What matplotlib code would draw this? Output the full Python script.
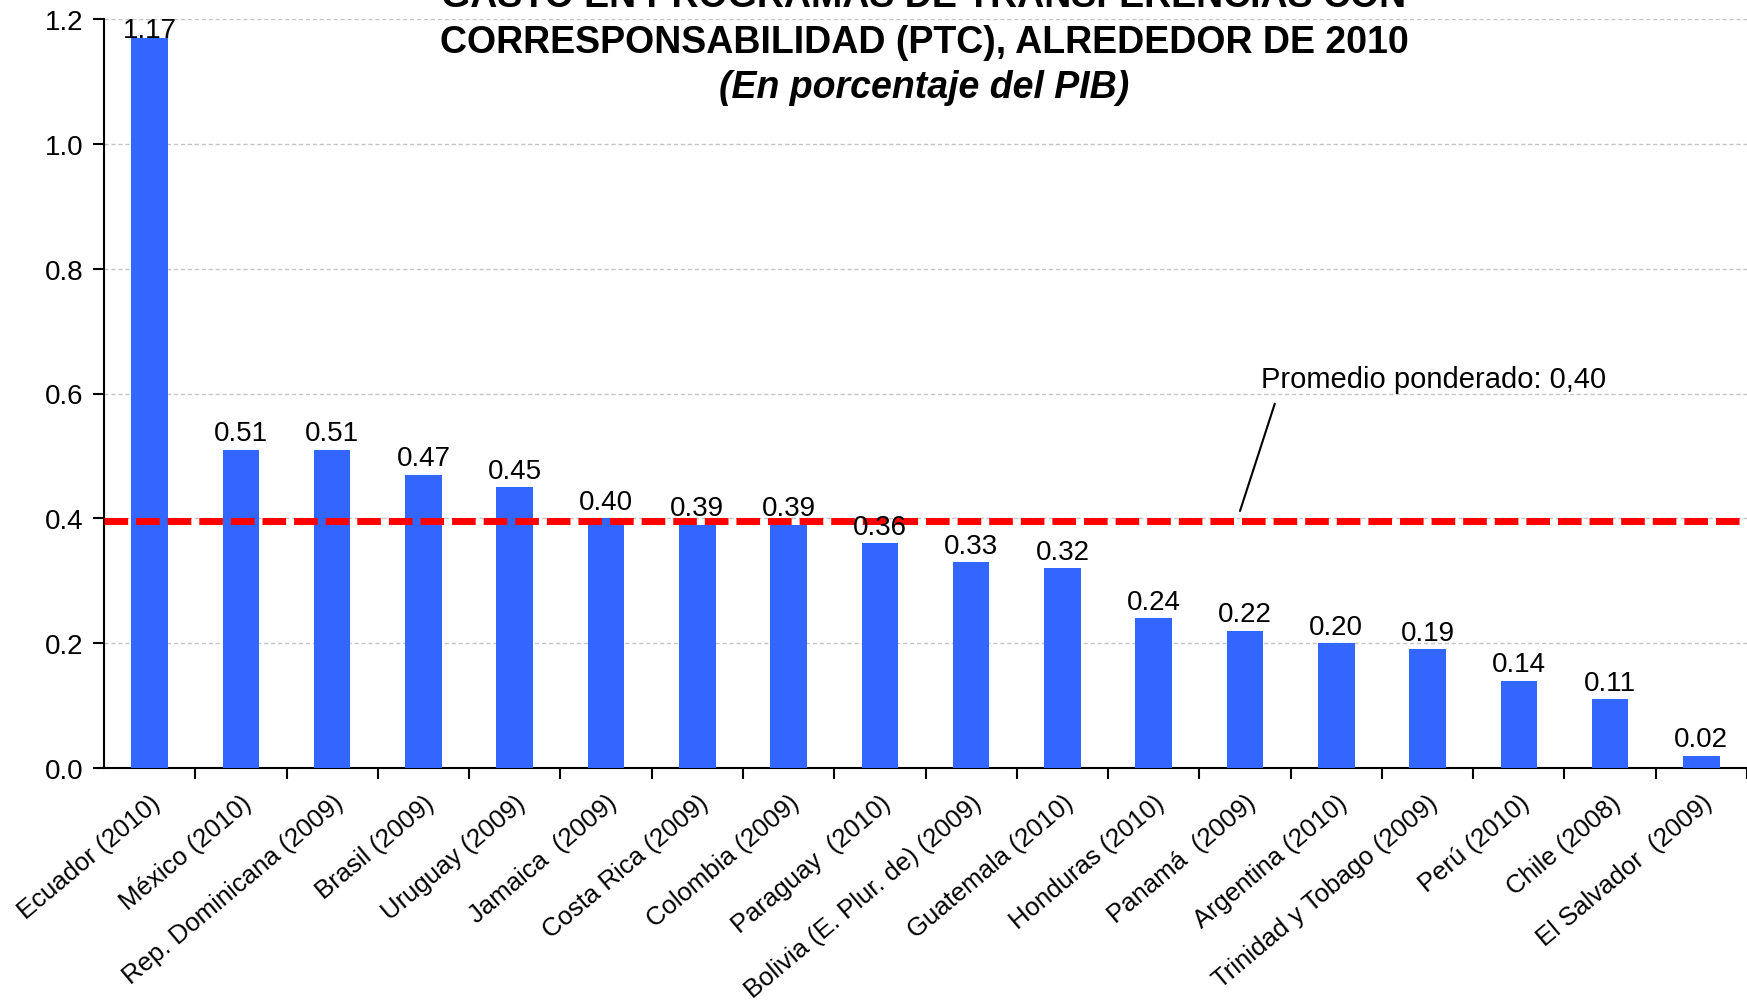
import matplotlib
matplotlib.use("Agg")
import matplotlib.pyplot as plt
import matplotlib.transforms as mtransforms
import numpy as np

categories = ["Ecuador (2010)", "México (2010)", "Rep. Dominicana (2009)", "Brasil (2009)",
              "Uruguay (2009)", "Jamaica  (2009)", "Costa Rica (2009)", "Colombia (2009)",
              "Paraguay  (2010)", "Bolivia (E. Plur. de) (2009)", "Guatemala (2010)",
              "Honduras (2010)", "Panamá  (2009)", "Argentina (2010)",
              "Trinidad y Tobago (2009)", "Perú (2010)", "Chile (2008)", "El Salvador  (2009)"]
values = [1.17, 0.51, 0.51, 0.47, 0.45, 0.40, 0.39, 0.39, 0.36, 0.33, 0.32,
          0.24, 0.22, 0.20, 0.19, 0.14, 0.11, 0.02]
average = 0.395
yticks = [0.0, 0.2, 0.4, 0.6, 0.8, 1.0, 1.2]

plt.rcParams['font.family'] = ['Liberation Sans', 'DejaVu Sans']

W, H = 1747, 1004
fig = plt.figure(figsize=(W/100, H/100), dpi=100)
ax = fig.add_axes([104/W, 1-769/H, (W-104)/W, (769-20)/H])

x = np.arange(len(categories))
ax.bar(x, values, width=0.4, color='#3366FF', zorder=3)
ax.set_xlim(-0.5, len(categories)-0.5)
ax.set_ylim(0, 1.2)

for yv in yticks[1:]:
    ax.axhline(yv, color='#C4C4C4', lw=1.0, ls=(0, (3, 2)), zorder=1)

ax.axhline(average, color='#FF0000', lw=5, ls=(0, (3.4, 1.15)), zorder=4)

for xi, v in zip(x, values):
    ytxt = min(v + 0.026, 1.183)
    ax.text(xi, ytxt, f"{v:.2f}", ha='center', va='center', fontsize=20, zorder=5)

ax.set_yticks(yticks)
ax.set_yticklabels([f"{t:.1f}" for t in yticks], fontsize=20)
ax.set_xticks(x)
labels = ax.set_xticklabels(categories, rotation=40, ha='right', rotation_mode='anchor',
                            fontsize=18.5)
offset = mtransforms.ScaledTranslation(6/100, 0, fig.dpi_scale_trans)
for lab in labels:
    lab.set_transform(lab.get_transform() + offset)
ax.tick_params(axis='x', which='major', length=0, pad=16)
ax.set_xticks(np.arange(len(categories)) + 0.5, minor=True)
ax.tick_params(axis='x', which='minor', length=8, width=1.5, direction='out')
ax.tick_params(axis='y', length=8, width=1.5, direction='out', pad=7)

for s in ['top', 'right']:
    ax.spines[s].set_visible(False)
ax.spines['left'].set_linewidth(1.5)
ax.spines['bottom'].set_linewidth(1.5)

ax.annotate("Promedio ponderado: 0,40", xy=(1240/W, 1-512/H), xycoords='figure fraction',
            xytext=(1261/W, 1-380/H), textcoords='figure fraction',
            ha='left', va='center', fontsize=21,
            arrowprops=dict(arrowstyle='-', color='black', lw=1.5,
                            shrinkA=6, shrinkB=0, relpos=(0.05, 0.0)))

cx = 924/W
fig.text(cx, 1-(-3)/H, "GASTO EN PROGRAMAS DE TRANSFERENCIAS CON", ha='center', va='center',
         fontsize=27, fontweight='bold')
fig.text(cx, 1-43/H, "CORRESPONSABILIDAD (PTC), ALREDEDOR DE 2010", ha='center', va='center',
         fontsize=27, fontweight='bold')
fig.text(cx, 1-88/H, "(En porcentaje del PIB)", ha='center', va='center',
         fontsize=27, fontweight='bold', style='italic')

fig.savefig("out.png", dpi=100)
